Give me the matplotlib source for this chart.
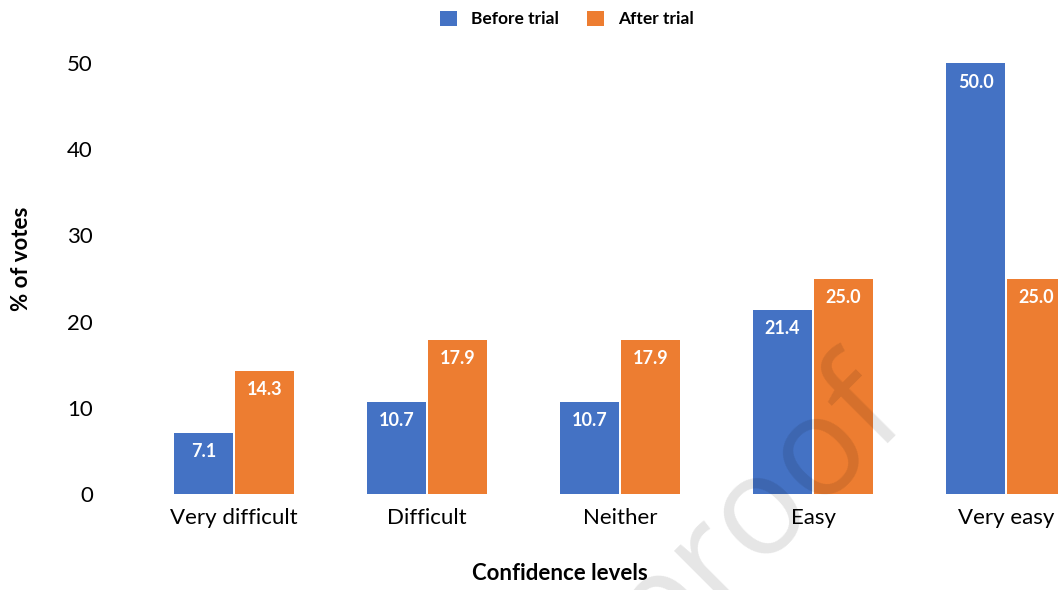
import numpy as np
import matplotlib.pyplot as plt

plt.rcParams['font.family'] = ['Lato', 'DejaVu Sans']

categories = ['Very difficult', 'Difficult', 'Neither', 'Easy', 'Very easy']
before_trial = [7.1, 10.7, 10.7, 21.4, 50.0]
after_trial = [14.3, 17.9, 17.9, 25.0, 25.0]
series_names = ['Before trial', 'After trial']

BLUE = '#4472C4'
ORANGE = '#ED7D31'

W, H = 1058, 590
fig = plt.figure(figsize=(W / 100, H / 100), dpi=100)
# axes spans px 140..1058 horizontally, y 0 at px 494
ax = fig.add_axes([140 / W, (H - 494) / H, 1 - 140 / W, 52 * 8.62 / H])

x = np.arange(len(categories))
bw = 0.306
off = 0.158
b1 = ax.bar(x - off, before_trial, bw, color=BLUE, label=series_names[0])
b2 = ax.bar(x + off, after_trial, bw, color=ORANGE, label=series_names[1])

for bars in (b1, b2):
    for r in bars:
        ax.annotate(f'{r.get_height():.1f}', (r.get_x() + r.get_width() / 2, r.get_height()),
                    xytext=(0, -19), textcoords='offset pixels', ha='center', va='center',
                    color='white', fontsize=13, fontweight='bold')

ax.set_xlim(-0.487, 4.269)
ax.set_ylim(0, 52)
ax.set_yticks(range(0, 51, 10))
ax.set_xticks(x)
ax.set_xticklabels(categories)
ax.tick_params(axis='both', length=0, labelsize=16)
ax.tick_params(axis='y', pad=34)
ax.tick_params(axis='x', pad=10)
for s in ax.spines.values():
    s.set_visible(False)

fig.text(22 / W, 1 - 259 / H, '% of votes', rotation=90, ha='center', va='center',
         fontsize=16, fontweight='bold')
fig.text(560 / W, 1 - 574 / H, 'Confidence levels', ha='center', va='center',
         fontsize=16, fontweight='bold')

fig.legend(handles=[b1, b2], loc='center', bbox_to_anchor=(567 / W, 1 - 19 / H), ncol=2,
           frameon=False, prop={'weight': 'bold', 'size': 12.5}, handlelength=1.0,
           handleheight=1.0, columnspacing=1.6, handletextpad=0.8)

# faint watermark
fig.text(755 / W, 1 - 512 / H, 'proof', rotation=45, ha='center', va='center',
         fontsize=100, family=['Open Sans', 'DejaVu Sans'], color='black', alpha=0.1)

fig.savefig('out.png', dpi=100)
